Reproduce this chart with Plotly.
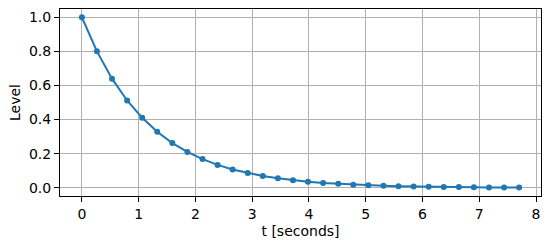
import plotly.graph_objects as go

t_seconds = [0.0, 0.266, 0.531, 0.797, 1.063, 1.328, 1.594, 1.859, 2.125, 2.391,
             2.656, 2.922, 3.188, 3.453, 3.719, 3.984, 4.250, 4.516, 4.781, 5.047,
             5.313, 5.578, 5.844, 6.109, 6.375, 6.641, 6.906, 7.172, 7.438, 7.703]
level = [1.000, 0.800, 0.640, 0.512, 0.410, 0.328, 0.262, 0.210, 0.168, 0.134,
         0.107, 0.086, 0.069, 0.055, 0.044, 0.035, 0.028, 0.023, 0.018, 0.014,
         0.012, 0.009, 0.007, 0.006, 0.005, 0.004, 0.003, 0.002, 0.002, 0.002]
x_ticks = [0, 1, 2, 3, 4, 5, 6, 7, 8]
y_ticks = [0.0, 0.2, 0.4, 0.6, 0.8, 1.0]

fig = go.Figure()
fig.add_trace(go.Scatter(
    x=t_seconds, y=level, mode="lines+markers",
    line=dict(color="#1f77b4", width=2),
    marker=dict(color="#1f77b4", size=6),
    showlegend=False,
))

axis_common = dict(
    showgrid=True, gridcolor="#b0b0b0", gridwidth=1,
    showline=True, linecolor="black", linewidth=1, mirror=True,
    ticks="outside", ticklen=5, tickcolor="black", tickwidth=1,
    zeroline=False,
    tickfont=dict(family="DejaVu Sans", size=14, color="black"),
    title_font=dict(family="DejaVu Sans", size=14, color="black"),
)

fig.update_xaxes(
    range=[-0.385, 8.088], tickvals=x_ticks, ticktext=[str(v) for v in x_ticks],
    title_text="t [seconds]", title_standoff=5, **axis_common,
)
fig.update_yaxes(
    range=[-0.0485, 1.0485], tickvals=y_ticks, ticktext=[f"{v:.1f}" for v in y_ticks],
    title_text="Level", title_standoff=5, **axis_common,
)

fig.update_layout(
    width=551, height=245,
    margin=dict(l=60, r=10, t=8, b=46),
    paper_bgcolor="white", plot_bgcolor="white",
    font=dict(family="DejaVu Sans", size=14, color="black"),
)

fig.write_html("out.html")
